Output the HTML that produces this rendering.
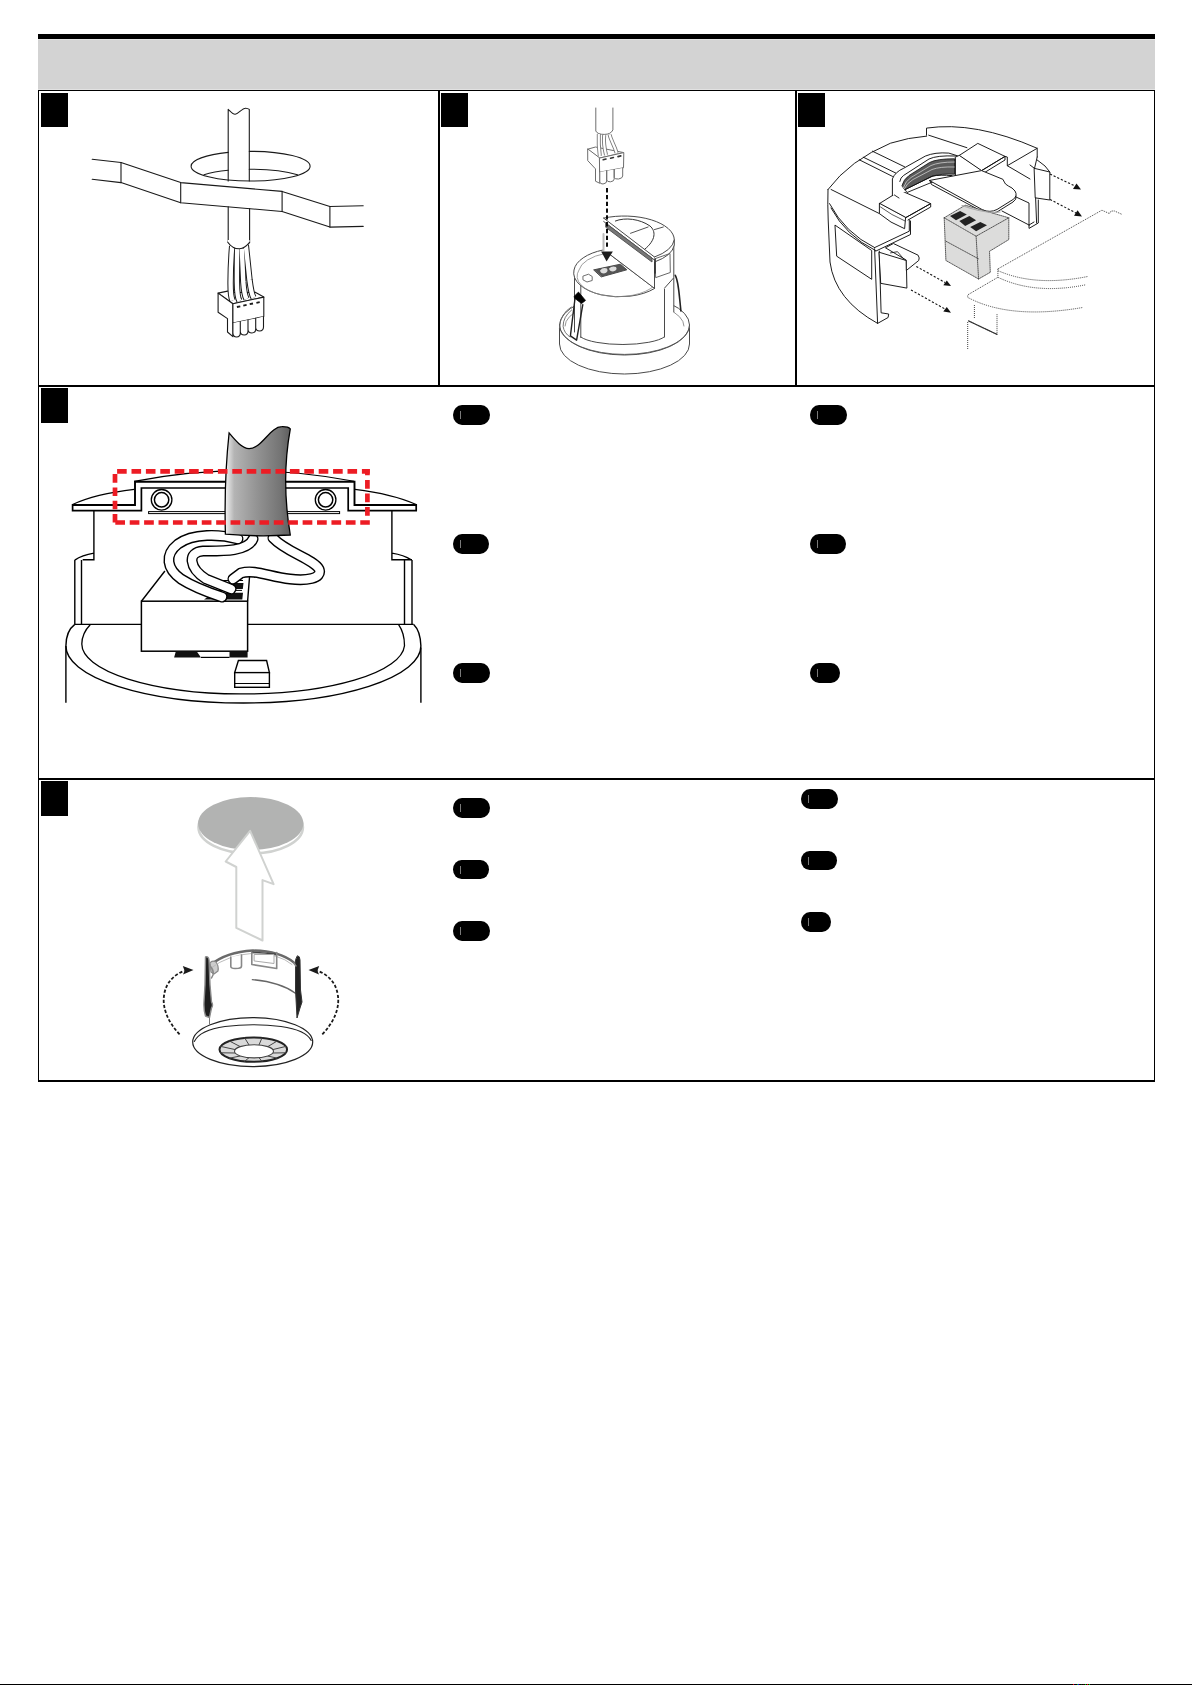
<!DOCTYPE html>
<html>
<head>
<meta charset="utf-8">
<style>
html,body{margin:0;padding:0;background:#fff;}
body{width:1192px;height:1685px;position:relative;overflow:hidden;font-family:"Liberation Sans",sans-serif;}
.a{position:absolute;}
.bk{background:#000;}
.sq{position:absolute;background:#000;width:27px;height:34px;}
.pill{position:absolute;background:#000;height:20px;border-radius:9px/10px;}
.pill i{position:absolute;left:7px;top:6px;width:1px;height:8px;background:#7a7a7a;}
svg{position:absolute;left:0;top:0;}
</style>
</head>
<body>
<!-- header -->
<div class="a bk" style="left:38px;top:34px;width:1117px;height:5px"></div>
<div class="a" style="left:38px;top:39px;width:1117px;height:1px;background:#e2e2e2"></div>
<div class="a" style="left:38px;top:40px;width:1117px;height:49px;background:#d3d3d3"></div>
<div class="a" style="left:38px;top:89px;width:1117px;height:1px;background:#e2e2e2"></div>

<!-- table lines -->
<div class="a bk" style="left:38px;top:90px;width:1117px;height:1px"></div>
<div class="a bk" style="left:38px;top:90px;width:1px;height:992px"></div>
<div class="a bk" style="left:1154px;top:90px;width:1px;height:992px"></div>
<div class="a bk" style="left:38px;top:385px;width:1117px;height:2px"></div>
<div class="a bk" style="left:38px;top:778px;width:1117px;height:2px"></div>
<div class="a bk" style="left:38px;top:1080px;width:1117px;height:2px"></div>
<div class="a bk" style="left:438px;top:90px;width:2px;height:296px"></div>
<div class="a bk" style="left:795px;top:90px;width:2px;height:296px"></div>

<!-- step squares -->
<div class="sq" style="left:41px;top:93px"></div>
<div class="sq" style="left:441px;top:93px"></div>
<div class="sq" style="left:798px;top:93px"></div>
<div class="sq" style="left:41px;top:388px;height:35px"></div>
<div class="sq" style="left:41px;top:781px;height:35px"></div>

<!-- pills row 2 -->
<div class="pill" style="left:453px;top:405px;width:37px"><i></i></div>
<div class="pill" style="left:453px;top:534px;width:36px"><i></i></div>
<div class="pill" style="left:453px;top:663px;width:37px"><i></i></div>
<div class="pill" style="left:810px;top:405px;width:37px"><i></i></div>
<div class="pill" style="left:810px;top:534px;width:36px"><i></i></div>
<div class="pill" style="left:810px;top:663px;width:30px"><i></i></div>
<!-- pills row 3 -->
<div class="pill" style="left:453px;top:798px;width:37px"><i></i></div>
<div class="pill" style="left:453px;top:860px;width:36px;height:19px"><i></i></div>
<div class="pill" style="left:453px;top:921px;width:37px"><i></i></div>
<div class="pill" style="left:801px;top:789px;width:37px"><i></i></div>
<div class="pill" style="left:801px;top:851px;width:36px;height:19px"><i></i></div>
<div class="pill" style="left:801px;top:912px;width:30px"><i></i></div>

<!-- bottom page line -->
<div class="a bk" style="left:0;top:1684px;width:1192px;height:1px"></div>
<div class="a" style="left:1073px;top:1684px;width:1px;height:1px;background:#f00"></div><div class="a" style="left:1074px;top:1684px;width:1px;height:1px;background:#003"></div><div class="a" style="left:1077px;top:1684px;width:1px;height:1px;background:#0a0"></div><div class="a" style="left:1078px;top:1684px;width:1px;height:1px;background:#00f"></div><div class="a" style="left:1079px;top:1684px;width:1px;height:1px;background:#300"></div><div class="a" style="left:1081px;top:1684px;width:1px;height:1px;background:#030"></div><div class="a" style="left:1083px;top:1684px;width:1px;height:1px;background:#300"></div><div class="a" style="left:1085px;top:1684px;width:1px;height:1px;background:#0b0"></div><div class="a" style="left:1087px;top:1684px;width:1px;height:1px;background:#f00"></div><div class="a" style="left:1089px;top:1684px;width:1px;height:1px;background:#0c0"></div>

<!-- ILLUSTRATIONS -->
<svg width="1192" height="1685" viewBox="0 0 1192 1685" fill="none" stroke="#000" stroke-linejoin="round" stroke-linecap="round">
<g id="p1" stroke="#1a1a1a" stroke-width="1.1">
<!-- hole ellipse -->
<path d="M228.2,152.4 A59.5,14.85 0 0 0 191.1,166.2 A59.5,14.85 0 0 0 310.1,166.2 A59.5,14.85 0 0 0 249.3,151.35"/>
<path d="M204,174.8 A59.5,14.85 0 0 1 228.2,170.3 M249.3,169.25 A59.5,14.85 0 0 1 297.5,174.8"/>
<!-- cable -->
<path d="M228.2,181 L228.2,109.4 C231,112 233,114.6 235.2,114.3 C238.5,114 242,108 245.8,108.2 C247.5,108.3 248.5,108.8 249.3,109.4 L249.3,181"/>
<path d="M228.2,206.8 L228.2,242 C230.5,246 235,249 239.6,248.8 C244,248.5 247,245.5 249.6,242.4 L249.6,208.6"/>
<!-- beam -->
<path d="M92.1,159.2 L121,162.5 L180.7,182.6 L282.1,191.4 L329.9,206.5 L363.2,205.7"/>
<path d="M92.1,179.3 L121,182.6 L180.7,202.7 L282.1,211.5 L329.9,227.1 L363.2,226.4"/>
<path d="M121,162.5 V182.6 M180.7,182.6 V202.7 M282.1,191.4 V211.5 M329.9,206.5 V227.1"/>
<!-- connector -->
<path fill="#fff" d="M218.1,293.1 L227.5,291.1 L230,292.5 L255.7,292.4 L263.8,297.1 L232.9,303.8 Z"/>
<path fill="#fff" d="M218.1,293.1 L232.9,303.8 L232.9,336.7 L227.5,332 L227.5,318.6 L218.1,312.2 Z"/>
<path fill="#fff" d="M232.9,303.8 L263.8,297.1 L263.8,316.6 L232.9,323 Z"/>
<path fill="#fff" d="M232.9,323 V333 Q233,337 236.6,337 Q240.3,336.8 240.3,333 V321.5 M240.3,321.5 V331.5 Q240.5,335 244.2,335 Q248,334.8 248,331 V320 M248,320 V329.5 Q248.2,333 251.9,333 Q255.7,332.8 255.7,329 V318.4 M255.7,318.4 V327.5 Q255.9,331 259.6,331 Q263.4,330.8 263.5,327 V316.6"/>
<g stroke-width="1.8" stroke-linecap="butt"><path d="M236.9,307 L240.3,306.3 M243.3,305.6 L246.6,304.9 M249.7,304.2 L253,303.5 M256.4,302.8 L259.7,302.1"/></g>

<!-- wires -->
<g stroke-width="6.4" stroke="#1a1a1a" stroke-linecap="butt">
<path d="M232.2,246 C231,260 230.6,270 230.6,282 C230.5,292 231,297 232.5,300.5"/>
<path d="M237.2,248.5 C237,262 236.8,272 236.9,282 C237,292 237.5,298 239.5,301"/>
<path d="M241.8,248.5 C242.3,262 242.8,272 243.3,282 C244,292 244.8,296 246.5,299"/>
<path d="M245.8,245 C247.2,258 248.5,270 249.5,280 C250.8,290 251.8,295 253.6,297.8"/>
</g>
<g stroke-width="4.4" stroke="#fff" stroke-linecap="butt">
<path d="M232.2,246 C231,260 230.6,270 230.6,282 C230.5,292 231,297 232.5,300.5"/>
<path d="M237.2,248.5 C237,262 236.8,272 236.9,282 C237,292 237.5,298 239.5,301"/>
<path d="M241.8,248.5 C242.3,262 242.8,272 243.3,282 C244,292 244.8,296 246.5,299"/>
<path d="M245.8,245 C247.2,258 248.5,270 249.5,280 C250.8,290 251.8,295 253.6,297.8"/>
</g>
<path fill="#fff" d="M227.8,240 V242.2 C230.5,246 235,249 239.6,248.8 C244,248.5 247,245.5 249.6,242.4 V240" stroke="none"/>
<path d="M227.8,242.2 C230.5,246 235,249 239.6,248.8 C244,248.5 247,245.5 249.6,242.4" />
</g>
<g id="p2" stroke="#4a4a4a" stroke-width="1">
<g stroke="#6e6e6e"><!-- cable -->
<path d="M595.8,108 V131 C597,133.5 600,134.4 604.3,134.4 C608.5,134.4 611.5,133 612.9,129.9 V108"/>
<!-- connector -->
<path fill="#fff" d="M588,149.1 L595.5,147 L623.8,152.6 L599.8,158 Z"/>
<path fill="#fff" d="M588,149.1 L599.8,158 L599.8,183.3 L595.5,181.2 L595.5,168.9 L588,160.9 Z"/>
<path fill="#fff" d="M599.8,158 L623.8,152.6 L623.5,167.8 L600,172.1 Z"/>
<path fill="#fff" d="M599.8,172 V182 Q600,184 603,184 Q606.7,183.5 606.7,181 V170.8 M606.7,170.8 V180 Q607,182 610.5,181.8 Q614.2,181.3 614.2,179 V169.4 M614.2,169.4 V177.5 Q614.5,179.3 618.5,179 Q622.7,178.3 622.7,176 V168"/>
</g><!-- wires -->
<g stroke-width="4" stroke="#777" stroke-linecap="butt">
<path d="M598.8,134 C598.5,140 598.5,146 599.8,156"/>
<path d="M604.2,135 C603.5,142 604.5,149 606,155"/>
<path d="M609.6,134.5 C610.5,140 614,144 616.6,153"/>
</g>
<g stroke-width="2.2" stroke="#fff" stroke-linecap="butt">
<path d="M598.8,134 C598.5,140 598.5,146 599.8,156"/>
<path d="M604.2,135 C603.5,142 604.5,149 606,155"/>
<path d="M609.6,134.5 C610.5,140 614,144 616.6,153"/>
</g>
<g stroke="#333" stroke-width="1.6"><path d="M603.2,159.7 L606,159 M610.6,158.2 L613.4,157.5 M618,156.6 L620.8,155.9"/></g>
<!-- flange -->
<path fill="#fff" d="M559.5,325 V344 A65,30 0 0 0 689.5,344 V325"/>
<path fill="#fff" d="M559.5,325 A65,30 0 0 1 689.5,325 A65,30 0 0 1 559.5,325 Z"/>
<path d="M565,326 A59.5,25 0 0 1 684,326" stroke="#777" stroke-width="0.8"/>
<path d="M560,329 A65,29 0 0 0 689,329" stroke="#555" stroke-width="0.9"/>
<!-- lower body -->
<path fill="#fff" stroke="none" d="M574.5,268 L574.5,332 Q578,338 581,337 A44,11 0 0 0 664.5,337 L673.8,320 L673.8,246 Z"/>
<path d="M574.5,270 V332 M580.8,284 V337.5"/>
<path d="M580.8,337 A44,11 0 0 0 664.5,336.8"/>
<path d="M664.5,289 V337 M673.8,245 V312 M664.7,287.9 L673.3,278.3"/>
<!-- lower cylinder top -->
<path fill="#fff" d="M606,249.5 A46,24 0 0 0 574,270 A46,24 0 0 0 654.7,288.4 Z" stroke="none"/>
<path d="M603,250 A46,24 0 0 0 574,270 A46,24 0 0 0 654.7,288.4"/>
<path d="M605,253.5 A41,20.5 0 0 0 579,270 A41,20.5 0 0 0 654.7,285.4" stroke="#888" stroke-width="0.8"/>
<path d="M610,254.5 L654.7,288.4"/>
<!-- socket -->
<path fill="#555" d="M594,269.8 L620.5,264.2 L626.8,269.8 L601.6,276.8 Z"/>
<path fill="#ddd" stroke="none" d="M600,270.5 Q603,267 607,268.5 Q609,272 604,273.5 Q600.5,273.5 600,270.5 Z M609,268.5 Q612,265.5 616,267 Q618,270 613,271.5 Q609.5,271.5 609,268.5 Z"/>
<path fill="#fff" d="M583.3,276 L588.5,274.2 L592.2,276.5 L592.2,280.5 L587,282 L583.3,280 Z" stroke-width="0.8"/>
<!-- upper half disc -->
<path fill="#fff" stroke="none" d="M603.7,218.1 A50,24 0 0 1 674.3,240 L674.3,245 A50,24 0 0 1 654.5,262 L654.5,288.4 L610,254.5 Z"/>
<path d="M603.7,218.1 A50,24 0 0 1 674.3,240 L674.3,245 A50,24 0 0 1 654.5,262 L654.5,288.4 L610,254.5"/>
<path d="M674.3,240 A50,24 0 0 1 654.5,257"/>
<path d="M603.7,218.1 L654.5,257 M603.7,221.5 L654.5,260"/>
<path fill="#777" stroke="#555" d="M606,223.5 L652,258 L652,262 L606,227.5 Z"/>
<path d="M615.4,221 C625,217 640,219 650,226 C656,231 656,240 645,249" stroke="#333"/>
<path d="M630.5,233.3 L648.1,227 M654.4,229.6 L663.3,227" stroke="#555"/>
<path d="M655.5,258.5 L670,253.5 L670.3,272.5 L656,277.5 Z" stroke="#555" stroke-width="0.9"/>
<path d="M655,259 V273" stroke="#333" stroke-width="1.6"/>
<!-- clips -->
<path d="M575,298.5 L570.4,335.9 L576.6,340.2 L582.8,304.7" stroke="#222" stroke-width="1.4"/>
<path d="M574.3,296.2 L578.5,292.1 L585.5,300.4 L581.6,303.5 L575,298.5 Z" fill="#000" stroke="#000" stroke-width="0.8"/>
<path d="M571.2,307 Q560,314 559.4,328 M571.6,310 Q563,317 563.1,326.3 Q564,333 570,337" stroke="#666" stroke-width="0.9"/>
<path d="M675.3,275.3 Q678,280 679.8,300 L680.9,311" stroke="#222" stroke-width="1.6"/>
<path d="M603.5,234 V250.5" stroke="#bbb" stroke-width="2"/>
<!-- dashed arrow -->
<path d="M607,188.1 V249" stroke="#000" stroke-width="1.9" stroke-dasharray="4.3 2.5" stroke-linecap="butt"/>
<path d="M601.1,251.4 L612.9,251.4 L606.6,261.4 Z" fill="#1c1c1c" stroke="none"/>
</g>
<g id="p3" stroke="#111" stroke-width="0.95">
<!-- housing silhouette fill -->
<path fill="#fff" stroke="none" d="M828,189.5 Q850,160 890.5,143.2 Q905,138 926.7,136 L926.5,128.1 Q975,121 1037.2,148.3 L1037.2,157 L1038.3,223 L1029,228.4 L1005,216 L960,200 L909.3,231.2 L881,250 L881.1,312.8 L888.7,314 L888.1,317.5 L877.6,323.4 Q840,305 831,272 Z"/>
<!-- outer top arcs -->
<path d="M828,189.5 Q850,160 890.5,143.2 Q908,137.5 926.7,136.1"/>
<path d="M926.5,135.2 V128.1 Q975,121 1037.2,148.3 V157"/>
<path d="M928.7,135.2 L966.9,147.7"/>
<!-- left side -->
<path d="M828,189.5 Q827.5,205 828.2,220 L830,262 Q835,300 877.6,323.4"/>
<path d="M829.5,203.6 Q845,233 874.6,247.6 M831,208 Q846,236 875.5,250.5"/>
<path d="M835.3,225.3 L871.7,250.5 L871.7,279.3 L837,256.4 Z"/>
<path d="M831.1,189.5 L879.4,213.6"/>
<path d="M859.3,159.8 L892.5,176.4 M863.3,157.2 L896.5,173.4 M872.4,151.2 L904.6,166.8"/>
<!-- front cut wall -->
<path d="M874.6,248.8 L877.6,323.4 L888.1,317.5 L888.7,314 L881.1,312.8 L879.3,251.1"/>
<path d="M874.6,247.6 L909.3,231.2 V220 M875.8,251.1 L910.5,234.5 L910.5,221"/>
<!-- step block 1 -->
<path fill="#fff" d="M879.4,203.6 L900.5,190.5 L930.7,203.6 L905.6,217.7 Z"/>
<path fill="#fff" d="M879.4,203.6 L879.4,213.6 Q890,223 904.6,228.7 L905.6,217.7 Z"/>
<path d="M880.5,207 Q891,215 905,221" stroke-width="0.7"/>
<path d="M905.6,217.7 L930.7,203.6 L930.7,207 L908,220"/>
<!-- cable channel -->
<path fill="#fff" d="M892.4,195.7 L892.4,178.9 Q895,172 903.8,168.2 L925.3,156.1 Q935,152 948.8,153.1 L957.5,155.8 L957.5,180 L905,192 Z" stroke="none"/>
<path d="M892.4,195.7 L892.4,178.9 Q895,172 903.8,168.2 L925.3,156.1 Q935,152 948.8,153.1 L957.5,155.8"/>
<path d="M899.8,181.5 Q900.5,177.5 903.5,175.5 L929,159 Q937,155.2 955.5,156"/>
<path fill="#5a5a5a" stroke="#111" stroke-width="0.8" d="M902,185.5 Q903.5,179.5 909,175.5 L929.5,162.5 Q937.5,158.6 954.5,158.8 L954.5,174.2 Q941,173.6 933,176 L905,189.5 Z"/>
<g stroke="#ddd" stroke-width="0.7" fill="none">
<path d="M903.5,187.5 Q905.5,181 911,177.5 L931,165.5 Q939,162 954.5,162"/>
<path d="M904.5,188.5 Q907,183 913,179.5 L932,169.5 Q940,166.5 954.5,167"/>
</g>
<path d="M905.1,189.7 L932,176.2 Q940,174.5 952.1,175.6" stroke-width="1"/>
<path d="M955.5,158.8 V180.3" stroke-width="1"/>
<path d="M894.4,195 L899,198 M905.1,189.7 L907,192.5 L935,181" stroke-width="0.9"/>
<!-- step block 2 -->
<path fill="#fff" d="M959.3,155.4 L977.8,143.4 L1005,156.4 L981.6,170.6 Z"/>
<path fill="#fff" d="M955.6,157 L959.3,155.4 L981.6,170.6 L981.6,174 L959.3,181.5 L955.6,179 Z"/>
<path d="M981.6,170.6 L1005,156.4 L1005,160 L983,173.5"/>
<path d="M1005,156.4 L1007.3,157 L1007.3,165.7 L1037.2,148.3"/>
<path d="M1007.3,165.7 L1030,179 M1037.2,157 L1034.5,168.4"/>
<!-- tongue plate -->
<path fill="#fff" d="M929.8,180.4 L981.6,170.6 L1002.9,179.3 Q1004.5,182.5 1005.5,184 Q1008,186 1012,188 L1015,191 Q1018,196 1013,199.5 L997,209.5 Q990,213 983,210 Z"/>
<path d="M983,210 L983,212 Q990,215 997,212 L1013,202 Q1017,199.5 1016,196" />
<path d="M929.8,180.4 L931.5,184.5 L983,212"/>
<!-- right clip and wall -->
<path fill="#fff" d="M1034.5,168.4 L1049.8,172 L1049.8,200 L1035.6,197.9 Z"/>
<path d="M1030,165 L1034.5,168.4 M1049.8,172 L1045,166 L1037.2,160"/>
<path d="M1035.6,197.9 L1036.6,223 M1038.3,200 L1038.3,223 L1029,228.4 L1029,225 L1034,222"/>
<path d="M1016,197 L1029,203 L1029,225 M1002,211 L1029,225"/>
<!-- front clip tab -->
<path fill="#fff" d="M879.3,252.3 L906.3,260.5 L906.9,288.1 L881.1,283.4 Z"/>
<path fill="#fff" d="M885.8,247.6 L893.4,243.5 L918.1,255.2 Q920,258 918.7,260.5 L906.3,270.5 L906.3,260.5 Z"/>
<path d="M890.5,252.9 L897.5,251.7 L904.6,260" stroke-width="0.8"/>
<!-- gray block -->
<g stroke="#333" stroke-width="0.8" stroke-dasharray="1 1">
<path fill="#dcdcdb" d="M944.2,217.8 L965.2,205.2 L1008.8,217.8 L1008.8,239.6 L989.5,251.3 L990.3,272.3 L978.6,279 L945.9,260.5 Z"/>
<path d="M944.2,217.8 L976.1,236.2 L1008.8,217.8 M976.1,236.2 L978.6,279 M945.9,241.2 L978.6,258.9"/>
</g>
<path d="M962,205.5 Q985,214 1000,212" stroke="#aaa" stroke-width="1.2"/>
<g fill="#222" stroke="none">
<path d="M950,216.1 L960.1,211 L966.8,214.4 L956,220.3 Z"/>
<path d="M959.3,221.1 L969.4,216.1 L976.1,220.3 L965.2,226.1 Z"/>
<path d="M970.2,227 L980.3,222 L987,225.3 L976.1,231.2 Z"/>
</g>
<!-- dashed arrows -->
<g stroke="#111" stroke-width="1.1" stroke-dasharray="2.2 1.8" stroke-linecap="butt">
<path d="M1050,174 L1076,186.5"/>
<path d="M1050,199.5 L1077,213.5"/>
<path d="M916.3,266.4 L945,282.5"/>
<path d="M911,289.9 L945,309"/>
</g>
<g fill="#111" stroke="none">
<path d="M1081,189.5 L1073,189 L1076.5,183.5 Z"/>
<path d="M1082,216.5 L1074,215.8 L1077.6,210.3 Z"/>
<path d="M951,286 L943.3,285.2 L946.8,280.5 Z"/>
<path d="M951,312.8 L943.3,311.6 L946.8,306.9 Z"/>
</g>
<!-- dotted ceiling outline -->
<g stroke="#222" stroke-width="0.85" stroke-dasharray="1 1" stroke-linecap="butt">
<path d="M997.9,268.9 L1101.9,210.2 L1109.5,213.6 L1111,211 L1114.5,211 L1122,214.4"/>
<path d="M997.9,270.6 Q1035,287 1087.7,276.5"/>
<path d="M997.9,277.3 Q1035,295 1085.1,284.9"/>
<path d="M997.9,268.9 V277.3 L967.7,294.9 V297.4"/>
<path d="M967.7,297.4 Q1010,320 1082.6,307.5"/>
<path d="M974.4,305 V319 M997,314.2 V334.4 L968.5,320.9 M967.7,322 V349.5"/>
</g>
<path d="M968.5,320.9 L997,334.4" stroke="#333" stroke-width="1.2" stroke-dasharray="0.9 0.8"/>
</g>
<g id="p4" stroke="#000" stroke-width="1.4" stroke-linecap="butt" stroke-linejoin="miter">
<defs>
<linearGradient id="cg" x1="0" x2="1" y1="0" y2="0">
<stop offset="0" stop-color="#f4f4f4"/>
<stop offset="0.14" stop-color="#b4b4b4"/>
<stop offset="0.5" stop-color="#929292"/>
<stop offset="0.85" stop-color="#747474"/>
<stop offset="1" stop-color="#5e5e5e"/>
</linearGradient>
</defs>
<!-- lower cylinder -->
<path d="M74.8,624.4 Q66,631 65.9,646 V702.8 M420.9,647.4 V702.8"/>
<path d="M65.9,646 A177.5,57 0 0 0 420.9,646 Q420.5,631 413.7,624.4"/>
<path d="M90.2,624.7 Q82,633 81.8,644 A161.4,50 0 0 0 404.5,645.7 Q404.5,633 398.6,624.7" stroke-width="1.3"/>
<path d="M74.8,624.4 H413.7" stroke-width="1.3"/>
<!-- body walls -->
<path d="M93.9,510.6 V559.8 H82.7 M74.8,560.1 Q82,555 93.9,553.1 M74.8,560 V624.4 M81.5,560 V624.4"/>
<path d="M391.9,510.6 V559.8 H412 M391.9,553.1 Q404,555 411.2,559.8 M404.5,560 V624.4 M412,560 V624.4"/>
<!-- flange left -->
<path d="M72.6,503.9 V510.6 H141.4 V488 H240" stroke-width="1.7"/>
<path d="M72.6,504.5 Q95,494 134.2,489.4" stroke-width="1.2"/>
<path d="M72.6,505 H135 V481.8 H240" stroke-width="1.9"/>
<!-- flange right -->
<path d="M416.2,503.9 V510.6 H348.2 V488 H240" stroke-width="1.7"/>
<path d="M416.2,505 H354.5 V481.8 H240" stroke-width="1.9"/>
<path d="M416.2,504.5 Q393,494 355,489.3" stroke-width="1.2"/>
<path d="M134.2,481.4 Q244,460 354.1,481.2" stroke-width="1.1"/>
<!-- screws -->
<circle cx="161.6" cy="499.8" r="10.3" fill="#fff" stroke-width="1.3"/>
<circle cx="161.6" cy="499.8" r="7.2" stroke-width="1.5"/>
<circle cx="325.6" cy="499.8" r="10.3" fill="#fff" stroke-width="1.3"/>
<circle cx="325.6" cy="499.8" r="7.2" stroke-width="1.5"/>
<rect x="148.6" y="511.6" width="191" height="2" fill="#fff" stroke-width="1"/>
<!-- connector box -->
<path fill="#fff" d="M141.4,601.2 L164.9,571 L249.6,571 L249.6,577.8 L247.6,601.2 Z" stroke="none"/>
<path d="M141.4,601.2 L164.9,571 M249.6,576 L247.6,601.2"/>
<rect x="141.4" y="601.2" width="106.2" height="50" fill="#fff" stroke-width="1.5"/>
<path fill="#111" stroke="none" d="M174.1,657.4 L175.8,651.6 L196.8,651.6 L201,657.4 Z M229.5,651.6 H247.6 V657.4 H229.5 Z"/>
<path d="M201,657.4 H229.5" stroke-width="1.2"/>
<path fill="#111" stroke="none" d="M214,592.8 L243,592.8 L242.3,599.6 L204,599.6 Z M222,583 L243.5,583 L242.8,589 L230,589 Z"/>
<path d="M205,590.4 L242,590.4 M215,580.5 L243,580.5" stroke-width="1"/>
<!-- small block -->
<path fill="#fff" d="M238.4,660.5 L266.6,660.5 L269.4,672.6 L234.7,672.6 Z"/>
<rect x="234.7" y="672.6" width="34.7" height="14.7" fill="#fff"/>
<path d="M234.7,683.5 H269.4" stroke-width="1.1"/>
<!-- wires -->
<g fill="none" stroke-linecap="round" stroke-linejoin="round">
<path d="M238,539 C220,534 193,533 178,544 C164,555 167,569 181,579 C195,588 210,593 222,597" stroke="#000" stroke-width="11"/><path d="M238,539 C220,534 193,533 178,544 C164,555 167,569 181,579 C195,588 210,593 222,597" stroke="#fff" stroke-width="8.2"/>
<path d="M253,539 C248,552 220,551 203,551 C187,552 189,568 206,579 L231,589" stroke="#000" stroke-width="11"/><path d="M253,539 C248,552 220,551 203,551 C187,552 189,568 206,579 L231,589" stroke="#fff" stroke-width="8.2"/>
<path d="M273,538 C286,552 313,559 319,569 C323,579 305,581 290,579 C270,577 255,569 241,573 L233,579" stroke="#000" stroke-width="11"/><path d="M273,538 C286,552 313,559 319,569 C323,579 305,581 290,579 C270,577 255,569 241,573 L233,579" stroke="#fff" stroke-width="8.2"/>
</g>
<!-- cable -->
<path fill="url(#cg)" stroke-width="1.3" d="M229.1,433 C235,440 242,448.6 249.1,448.6 C262,448.6 270,426.7 281.8,426.7 Q288,426.5 290.3,428.9 Q281,480 290.3,535 Q258,537 225.4,534.2 Q224,480 229.1,433 Z"/>
<!-- red dashed rect -->
<g stroke="#ed1c24" stroke-width="4.7" fill="none" stroke-linecap="butt">
<path d="M117.1,471.4 H369.8" stroke-dasharray="9.6 4.8"/>
<path d="M115.3,522.5 H369.8" stroke-dasharray="9.7 4.71"/>
<path d="M115,474.1 V524.9" stroke-dasharray="8.6 4.7"/>
<path d="M367.4,469.1 V516" stroke-dasharray="8.8 4.7" stroke-dashoffset="2.6"/>
</g>
</g>
<g id="p5" stroke="#222" stroke-width="1.2">
<!-- gray disc -->
<ellipse cx="250.7" cy="827.2" rx="52.2" ry="26.3" fill="none" stroke="#d0d2d0" stroke-width="2.6"/>
<ellipse cx="250.7" cy="823.5" rx="52.6" ry="26.5" fill="#b2b3b2" stroke="none"/>
<!-- up arrow -->
<path d="M250.1,830.8 L225.7,861.5 L236.3,867 L236.3,927.9 L262.5,940.5 L262.5,880.1 L273.6,884.1 Z" fill="#fff" stroke="#d0d2d0" stroke-width="2"/>
<!-- flange -->
<ellipse cx="252.7" cy="1042.1" rx="60" ry="24.5" fill="#fff"/>
<path d="M194.3,1041.5 Q200,1030 225,1026.5 Q253,1023 281,1026.5 Q306,1030 311.2,1040.5" stroke-width="1.1"/>
<!-- lens -->
<ellipse cx="253.3" cy="1049.6" rx="33.8" ry="12.2" fill="#dadada" stroke="#222" stroke-width="2"/>
<path d="M272.8,1053.0 L285.9,1052.8 M267.8,1056.0 L277.2,1058.2 M259.0,1057.7 L262.0,1061.4 M249.0,1057.7 L244.6,1061.4 M240.2,1056.0 L229.4,1058.2 M235.2,1053.0 L220.7,1052.8 M235.2,1049.6 L220.7,1046.4 M240.2,1046.6 L229.4,1041.0 M249.0,1044.9 L244.6,1037.8 M259.0,1044.9 L262.0,1037.8 M267.8,1046.6 L277.2,1041.0 M272.8,1049.6 L285.9,1046.4" stroke="#444" stroke-width="1"/>
<ellipse cx="254" cy="1051.3" rx="19.5" ry="6.6" fill="#fff" stroke="#444" stroke-width="1.1"/>
<!-- body -->
<path d="M209.5,1017 V1024" stroke="#555" stroke-width="0.8"/>
<path d="M210.5,965 Q226,952 253,950.5 Q280,951 294,962.6" stroke="#6a6a6a" stroke-width="2.4"/>
<path d="M210,963 Q212,960 216,962 Q219,966 218,971 L214,974 L211,972 Z" fill="#ccc" stroke="#888" stroke-width="1.2"/>
<path d="M252,952.3 L276,954.5" stroke="#444" stroke-width="2"/>
<path d="M211,968 Q228,955 253,953.3 Q279,953.5 292,964.5" stroke="#bbb" stroke-width="1"/>
<path d="M230.8,957 V966.5 Q231,968.5 235,968.5 L238.5,968.3 Q241.5,968 241.5,966 V955" stroke="#888" stroke-width="1.6" fill="#fff"/>
<path d="M251.8,952 V964.5 L276.7,968.5 V952.5" stroke="#888" stroke-width="1.6"/>
<path d="M254.5,954.5 H274 V963.5 L254.5,961 Z" stroke="#aaa" stroke-width="1" fill="#fff"/>
<path d="M211,967 Q214,971 213,975 L211.5,978" stroke="#888" stroke-width="1.5"/>
<path d="M252.4,979.6 Q280,982 295.4,993.2" stroke="#666" stroke-width="1.4"/>
<!-- clips -->
<path d="M205.5,957 Q208.5,956 209,960 L210,985 L211.5,1002 Q213.5,1005 211.5,1008 L209.5,1017.5 L205.5,1016 Q203.5,1010 204,1002 L205,985 Z" fill="#1e1e1e" stroke="#8a8a8a" stroke-width="1.4"/>
<path d="M297.7,955.8 Q300,956 300,960 L300.5,990 L302,1002 L300,1008 L297,1018 L296.4,1006 L295.5,990 L295.6,960 Z" fill="#222" stroke="#333" stroke-width="1"/>
<path d="M293.7,963 L296,966" stroke="#888" stroke-width="1.5"/>
<!-- dashed curved arrows -->
<g stroke="#1a1a1a" stroke-width="1.8" stroke-dasharray="3.2 1.9" stroke-linecap="butt" fill="none">
<path d="M179.6,1034.4 C168,1022 162,1008 164.1,995 C166,982 175,974 184.6,970.8"/>
<path d="M322.3,1034.4 C334,1022 340,1008 337.8,995 C336,982 327,974 317.4,970.8"/>
</g>
<g fill="#1a1a1a" stroke="none">
<path d="M193.5,970 L182.8,966 L184.6,970.8 L183,974.6 Z"/>
<path d="M308.5,970 L319.2,966 L317.4,970.8 L319,974.6 Z"/>
</g>
</g>
</svg>
</body>
</html>
